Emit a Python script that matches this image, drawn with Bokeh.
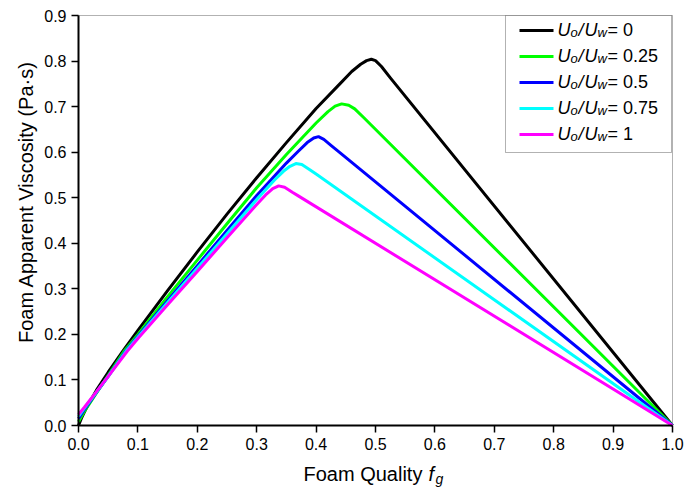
from math import pi
from bokeh.plotting import figure
from bokeh.models import Range1d, FixedTicker, PrintfTickFormatter, Label, BoxAnnotation
from bokeh.embed import file_html
from bokeh.resources import INLINE

# ---------------- data ----------------
x_ticks = [0.0, 0.1, 0.2, 0.3, 0.4, 0.5, 0.6, 0.7, 0.8, 0.9, 1.0]
y_ticks = [0.0, 0.1, 0.2, 0.3, 0.4, 0.5, 0.6, 0.7, 0.8, 0.9]

ratio_labels = ["0", "0.25", "0.5", "0.75", "1"]
colors = ["#000000", "#00ff00", "#0000ff", "#00ffff", "#ff00ff"]

fg_0 = [0.0, 0.005, 0.015, 0.03, 0.05, 0.075, 0.1, 0.15, 0.2, 0.25, 0.3, 0.35, 0.4, 0.44,
        0.46, 0.475, 0.485, 0.493, 0.50, 0.51, 0.525, 1.0]
mu_0 = [0.0, 0.016, 0.043, 0.077, 0.117, 0.164, 0.209, 0.296, 0.381, 0.464, 0.544, 0.621, 0.696, 0.750,
        0.777, 0.793, 0.801, 0.804, 0.801, 0.788, 0.763, 0.0]

fg_025 = [0.0, 0.01, 0.03, 0.05, 0.076, 0.1, 0.15, 0.2, 0.25, 0.3, 0.35, 0.4, 0.42, 0.432, 0.443,
          0.455, 0.465, 0.48, 1.0]
mu_025 = [0.008, 0.031, 0.071, 0.11, 0.162, 0.2, 0.283, 0.363, 0.443, 0.522, 0.595, 0.664, 0.689, 0.701, 0.706,
          0.703, 0.695, 0.676, 0.0]

fg_05 = [0.0, 0.01, 0.03, 0.05, 0.079, 0.1, 0.15, 0.2, 0.25, 0.3, 0.35, 0.37, 0.385, 0.396, 0.404,
         0.413, 0.425, 0.44, 1.0]
mu_05 = [0.015, 0.035, 0.072, 0.108, 0.163, 0.196, 0.274, 0.351, 0.428, 0.505, 0.576, 0.602, 0.621, 0.631, 0.634,
         0.628, 0.615, 0.599, 0.0]

fg_075 = [0.0, 0.01, 0.03, 0.05, 0.08, 0.1, 0.15, 0.2, 0.25, 0.3, 0.33, 0.345, 0.356, 0.366,
          0.376, 0.39, 0.40, 1.0]
mu_075 = [0.02, 0.038, 0.073, 0.108, 0.163, 0.194, 0.27, 0.345, 0.421, 0.496, 0.539, 0.558, 0.569, 0.575,
          0.573, 0.561, 0.552, 0.0]

fg_1 = [0.0, 0.01, 0.03, 0.05, 0.082, 0.1, 0.15, 0.2, 0.25, 0.3, 0.315, 0.327, 0.337, 0.347,
        0.36, 0.37, 1.0]
mu_1 = [0.024, 0.04, 0.074, 0.108, 0.163, 0.191, 0.265, 0.338, 0.412, 0.485, 0.506, 0.520, 0.526, 0.523,
        0.512, 0.504, 0.0]

series_f = [fg_0, fg_025, fg_05, fg_075, fg_1]
series_mu = [mu_0, mu_025, mu_05, mu_075, mu_1]

# ---------------- layout constants (pixels) ----------------
W, H = 687, 491
PX_X0, PX_X1 = 78, 672      # pixel columns of x = 0 and x = 1
PX_Y0, PX_Y1 = 425, 15      # pixel rows of y = 0 and y = 0.9
XMAX, YMAX = 1.0, 0.9
KX = (PX_X1 - PX_X0) / XMAX
KY = (PX_Y0 - PX_Y1) / YMAX
FONT = "Liberation Sans"
BASE_SHIFT = 7               # label baseline correction


def dx(px):
    return (px - PX_X0) / KX


def dy(py):
    return (PX_Y0 - py) / KY


def sx(px):
    return px


def sy(py):
    return H - py


p = figure(width=W, height=H, output_backend="svg", toolbar_location=None,
           x_range=Range1d(dx(0), dx(W)), y_range=Range1d(dy(H), dy(0)),
           min_border=0)
p.xgrid.visible = False
p.ygrid.visible = False
p.background_fill_color = "white"
p.border_fill_color = "white"
p.outline_line_color = None

for ax, ticks, bnds in ((p.xaxis, x_ticks, (0, XMAX)), (p.yaxis, y_ticks, (0, YMAX))):
    ax.fixed_location = 0
    ax.bounds = bnds
    ax.ticker = FixedTicker(ticks=ticks, minor_ticks=[])
    ax.formatter = PrintfTickFormatter(format="%.1f")
    ax.axis_line_width = 2
    ax.axis_line_color = "black"
    ax.major_tick_line_width = 1.5
    ax.major_tick_line_color = "black"
    ax.major_tick_out = 7
    ax.major_tick_in = 0
    ax.minor_tick_line_color = None
    ax.major_label_text_font = FONT
    ax.major_label_text_font_size = "16px"
    ax.major_label_text_color = "black"
    ax.major_label_standoff = 5

# plot box (top and right edges)
p.add_layout(BoxAnnotation(left=0, right=XMAX, bottom=0, top=YMAX,
                           fill_color=None, line_color="black", line_width=1,
                           level="underlay"))

for f, mu, c in zip(series_f, series_mu, colors):
    p.line(f, mu, line_color=c, line_width=3, line_join="round")

# ---------------- legend (drawn by hand for subscripts) ----------------
p.add_layout(BoxAnnotation(left=sx(505), right=sx(671), top=sy(15), bottom=sy(152),
                           left_units="screen", right_units="screen",
                           top_units="screen", bottom_units="screen",
                           fill_color="white", fill_alpha=1.0,
                           line_color="black", line_width=1, level="underlay"))


def lbl(text, px, py, size, italic=False, **kw):
    baseline = kw.get("baseline", "alphabetic")
    if baseline == "alphabetic":
        py = py - BASE_SHIFT
    p.add_layout(Label(x=sx(px), y=sy(py), x_units="screen", y_units="screen",
                       text=text, text_font=FONT, text_font_size=f"{size}px",
                       text_font_style="italic" if italic else "normal",
                       text_color="black", text_align=kw.get("align", "left"),
                       text_baseline=baseline, angle=kw.get("angle", 0)))


for i, (c, r) in enumerate(zip(colors, ratio_labels)):
    pyc = 30 + 26 * i
    p.segment(x0=[dx(519)], y0=[dy(pyc)], x1=[dx(553)], y1=[dy(pyc)], line_color=c, line_width=3)
    base = pyc + 6
    lbl("U", 557, base, 18, italic=True)
    lbl("o", 570, base + 3, 13, italic=True)
    lbl("/", 578, base, 18, italic=True)
    lbl("U", 584, base, 18, italic=True)
    lbl("w", 597, base + 3, 13, italic=True)
    lbl("= " + r, 607, base, 18)

# ---------------- axis titles ----------------
lbl("Foam Quality", 303, 480, 20)
lbl("f", 428, 480, 20, italic=True)
lbl("g", 435, 485, 14, italic=True)
lbl("Foam Apparent Viscosity (Pa·s)", 25, 201.5, 20, align="center", baseline="middle", angle=pi / 2)

open("out.html", "w").write(file_html(p, INLINE))
